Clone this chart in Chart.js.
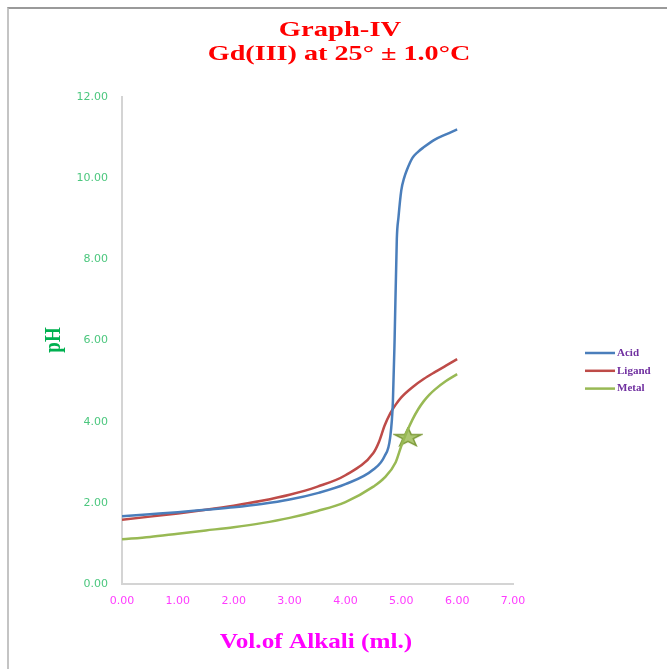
<!DOCTYPE html>
<html>
<head>
<meta charset="utf-8">
<script src="https://cdn.jsdelivr.net/npm/chart.js@4/dist/chart.umd.min.js"></script>
<style>
  html, body { margin: 0; padding: 0; background: #fff; }
  #wrap { position: relative; width: 667px; height: 669px; overflow: hidden; }
  #frame {
    position: absolute; left: 7px; top: 7px; width: 680px; height: 680px;
    border-top: 2px solid #9a9a9a; border-left: 2px solid #c4c4c4;
    pointer-events: none;
  }
  canvas { position: absolute; left: 0; top: 0; }
</style>
</head>
<body>
<div id="wrap">
  <canvas id="phChart" width="667" height="669"></canvas>
  <div id="frame"></div>
</div>
<script>
// volumes of alkali (ml) and pH readings
const acidVol = [0, 0.5, 1.0, 1.5, 2.0, 2.5, 3.0, 3.5, 4.0, 4.5, 4.7, 4.8, 4.85, 4.88, 4.92, 4.95, 5.0, 5.05, 5.1, 5.2, 5.3, 5.4, 5.6, 5.8, 6.0];
const acidPH = [1.67, 1.72, 1.77, 1.83, 1.89, 1.97, 2.08, 2.24, 2.46, 2.82, 3.15, 3.6, 4.5, 6.0, 8.5, 9.04, 9.7, 10.0, 10.2, 10.5, 10.65, 10.76, 10.95, 11.08, 11.2];

const ligandVol = [0, 0.5, 1.0, 1.5, 2.0, 2.5, 3.0, 3.5, 4.0, 4.5, 4.6, 4.7, 4.8, 4.9, 5.0, 5.2, 5.4, 5.6, 5.8, 6.0];
const ligandPH = [1.58, 1.66, 1.74, 1.83, 1.93, 2.05, 2.2, 2.4, 2.68, 3.23, 3.5, 3.9, 4.2, 4.42, 4.6, 4.85, 5.05, 5.22, 5.38, 5.54];

const metalVol = [0, 0.5, 1.0, 1.5, 2.0, 2.5, 3.0, 3.5, 4.0, 4.5, 4.7, 4.9, 5.0, 5.1, 5.2, 5.3, 5.4, 5.5, 5.6, 5.8, 6.0];
const metalPH = [1.1, 1.16, 1.24, 1.32, 1.4, 1.5, 1.63, 1.8, 2.02, 2.4, 2.62, 3.0, 3.4, 3.75, 4.05, 4.3, 4.5, 4.66, 4.79, 5.0, 5.17];

// star marker on the metal curve
const starVol = [5.12];
const starPH = [3.62];

const xTicks = [0, 1, 2, 3, 4, 5, 6, 7];
const yTicks = [0, 2, 4, 6, 8, 10, 12];

const titleLines = ["Graph-IV", "Gd(III) at 25° ± 1.0°C"];
const xTitle = "Vol.of Alkali (ml.)";
const yTitle = "pH";

function toPoints(xs, ys) {
  return xs.map((x, i) => ({ x: x, y: ys[i] }));
}

function makeStar() {
  const c = document.createElement("canvas");
  c.width = 30;
  c.height = 20;
  const g = c.getContext("2d");
  const cx = 15, cy = 10.5, ro = 14, ri = 5.5;
  g.beginPath();
  for (let k = 0; k < 10; k++) {
    const r = k % 2 === 0 ? ro : ri;
    const a = -Math.PI / 2 + (k * Math.PI) / 5;
    const px = cx + r * Math.cos(a);
    const py = cy + r * Math.sin(a) * 0.7;
    if (k === 0) g.moveTo(px, py);
    else g.lineTo(px, py);
  }
  g.closePath();
  g.fillStyle = "#adc772";
  g.fill();
  g.lineWidth = 1.5;
  g.strokeStyle = "#7f9c3c";
  g.stroke();
  return c;
}

// text in the reference is stretched sideways, so draw it with a scale
function stretchedText(ctx, text, x, y, font, color, sx, rot) {
  ctx.save();
  ctx.translate(x, y);
  if (rot) ctx.rotate(rot);
  ctx.scale(sx[0], sx[1]);
  ctx.font = font;
  ctx.fillStyle = color;
  ctx.textAlign = "center";
  ctx.textBaseline = "middle";
  ctx.fillText(text, 0, 0);
  ctx.restore();
}

const textLayer = {
  id: "textLayer",
  afterDraw(chart) {
    const ctx = chart.ctx;
    const serif = "'Liberation Serif', serif";
    stretchedText(ctx, titleLines[0], 340, 30, "bold 22px " + serif, "#ff0000", [1.3, 1]);
    stretchedText(ctx, titleLines[1], 339, 54, "bold 22px " + serif, "#ff0000", [1.28, 1]);
    stretchedText(ctx, xTitle, 316, 643, "bold 21px " + serif, "#ff00ff", [1.2, 1]);
    stretchedText(ctx, yTitle, 54, 340, "bold 19px " + serif, "#00b050", [1, 1.2], -Math.PI / 2);

    // legend on the right
    const items = chart.data.datasets.filter((d) => !d.hideInLegend);
    ctx.save();
    ctx.font = "bold 11px " + serif;
    ctx.textBaseline = "middle";
    items.forEach((d, i) => {
      const y = 353 + i * 17.8;
      ctx.strokeStyle = d.borderColor;
      ctx.lineWidth = 2.5;
      ctx.beginPath();
      ctx.moveTo(585, y);
      ctx.lineTo(615, y);
      ctx.stroke();
      ctx.fillStyle = "#7030a0";
      ctx.fillText(d.label, 617, y);
    });
    ctx.restore();
  },
};

document.addEventListener("DOMContentLoaded", function () {
  const ctx = document.getElementById("phChart").getContext("2d");

  const lineStyle = {
    borderWidth: 2.5,
    pointRadius: 0,
    fill: false,
    cubicInterpolationMode: "monotone",
  };

  new Chart(ctx, {
    type: "line",
    data: {
      datasets: [
        { label: "Acid", data: toPoints(acidVol, acidPH), borderColor: "#4a7ebb", ...lineStyle },
        { label: "Ligand", data: toPoints(ligandVol, ligandPH), borderColor: "#be4b48", ...lineStyle },
        { label: "Metal", data: toPoints(metalVol, metalPH), borderColor: "#98b954", ...lineStyle },
        {
          label: "star",
          hideInLegend: true,
          data: toPoints(starVol, starPH),
          showLine: false,
          pointStyle: makeStar(),
          pointRadius: 10,
        },
      ],
    },
    options: {
      responsive: false,
      animation: false,
      layout: { padding: { left: 0, right: 154, top: 97, bottom: 0 } },
      plugins: {
        legend: { display: false },
        tooltip: { enabled: false },
        title: { display: false },
      },
      scales: {
        x: {
          type: "linear",
          min: 0,
          max: 7,
          afterBuildTicks: (s) => { s.ticks = xTicks.map((v) => ({ value: v })); },
          afterFit: (s) => { s.height = 85; },
          grid: { display: false, drawTicks: false },
          border: { display: true, color: "#d4d4d4", width: 2 },
          ticks: {
            padding: 11,
            color: "#ff3cff",
            font: { family: "'DejaVu Sans', sans-serif", size: 11 },
            callback: (v) => v.toFixed(2),
          },
        },
        y: {
          min: 0,
          max: 12,
          afterBuildTicks: (s) => { s.ticks = yTicks.map((v) => ({ value: v })); },
          afterFit: (s) => { s.width = 122; },
          grid: { display: false, drawTicks: false },
          border: { display: true, color: "#d4d4d4", width: 2 },
          ticks: {
            padding: 14,
            color: "#4cc77e",
            font: { family: "'DejaVu Sans', sans-serif", size: 11 },
            callback: (v) => v.toFixed(2),
          },
        },
      },
    },
    plugins: [textLayer],
  });
});
</script>
</body>
</html>
